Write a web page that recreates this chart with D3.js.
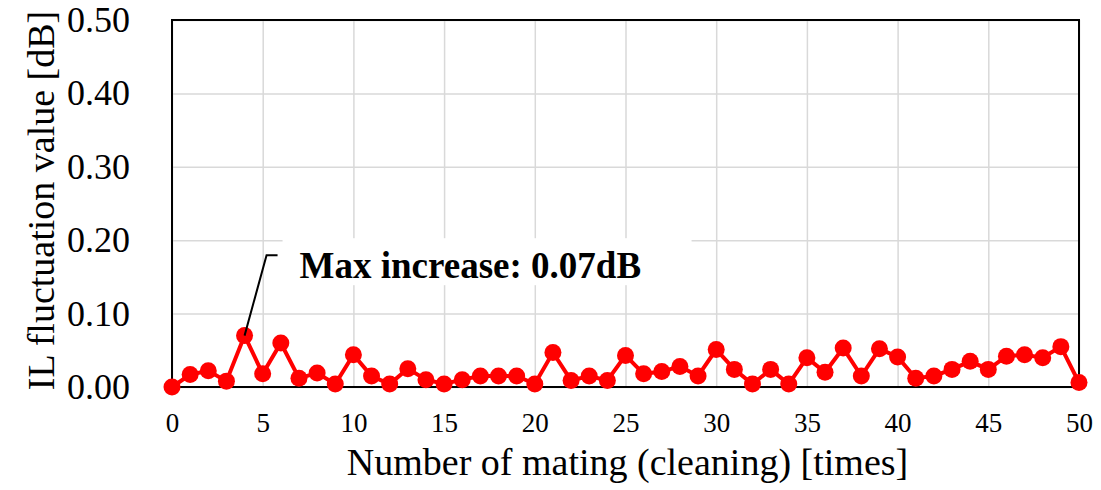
<!DOCTYPE html>
<html>
<head>
<meta charset="utf-8">
<script src="https://cdn.jsdelivr.net/npm/d3@7"></script>
<style>
  body { margin: 0; background: #fff; }
  text { font-family: "Liberation Serif", "Times New Roman", serif; fill: #000; }
</style>
</head>
<body>
<div id="chart"></div>
<script>
var svgWidth = 1101;
var svgHeight = 490;

var margin = { top: 20, right: 22, bottom: 103, left: 172 };
var width = svgWidth - margin.left - margin.right;
var height = svgHeight - margin.top - margin.bottom;

// data
var matingCount = d3.range(0, 51);
var ilFluctuation = [
  0.000, 0.017, 0.022, 0.008, 0.070, 0.018, 0.060, 0.012, 0.019, 0.004,
  0.044, 0.015, 0.004, 0.025, 0.010, 0.004, 0.010, 0.015, 0.015, 0.015,
  0.004, 0.047, 0.009, 0.015, 0.009, 0.043, 0.018, 0.021, 0.028, 0.015,
  0.051, 0.024, 0.004, 0.024, 0.004, 0.040, 0.020, 0.053, 0.015, 0.052,
  0.041, 0.012, 0.015, 0.024, 0.035, 0.024, 0.042, 0.044, 0.040, 0.055,
  0.006
];
var xTicks = [0, 5, 10, 15, 20, 25, 30, 35, 40, 45, 50];
var yTicks = [0, 0.1, 0.2, 0.3, 0.4, 0.5];
var maxLabel = "Max increase: 0.07dB";
var maxIndex = 4;

var points = matingCount.map(function(n, i) { return { n: n, v: ilFluctuation[i] }; });

var svg = d3.select("#chart")
  .append("svg")
  .attr("width", svgWidth)
  .attr("height", svgHeight);

var chartGroup = svg.append("g")
  .attr("transform", `translate(${margin.left}, ${margin.top})`);

var xScale = d3.scaleLinear().domain([0, 50]).range([0, width]);
var yScale = d3.scaleLinear().domain([0, 0.5]).range([height, 0]);

// gridlines
chartGroup.append("g")
  .call(d3.axisLeft(yScale).tickValues(yTicks).tickSize(-width).tickFormat(""))
  .call(g => g.select(".domain").remove())
  .call(g => g.selectAll("line").attr("stroke", "#d9d9d9").attr("stroke-width", 1.5));

chartGroup.append("g")
  .call(d3.axisBottom(xScale).tickValues(xTicks).tickSize(height).tickFormat(""))
  .call(g => g.select(".domain").remove())
  .call(g => g.selectAll("line").attr("stroke", "#d9d9d9").attr("stroke-width", 1.5));

// tick labels
chartGroup.append("g")
  .call(d3.axisLeft(yScale).tickValues(yTicks).tickSize(0).tickPadding(42).tickFormat(d3.format(".2f")))
  .call(g => g.select(".domain").remove())
  .call(g => g.selectAll("text").style("font-size", "36px").style("font-family", "'Liberation Serif', serif"));

chartGroup.append("g")
  .attr("transform", `translate(0, ${height})`)
  .call(d3.axisBottom(xScale).tickValues(xTicks).tickSize(0).tickPadding(26))
  .call(g => g.select(".domain").remove())
  .call(g => g.selectAll("text").style("font-size", "27px").style("font-family", "'Liberation Serif', serif"));

// frame
chartGroup.append("rect")
  .attr("width", width)
  .attr("height", height)
  .attr("fill", "none")
  .attr("stroke", "#000")
  .attr("stroke-width", 2);

// annotation box hides the grid behind the label
var ax = xScale(maxIndex), ay = yScale(ilFluctuation[maxIndex]);
chartGroup.append("rect")
  .attr("x", ax + 38)
  .attr("y", yScale(0.2) - 2)
  .attr("width", 409)
  .attr("height", 47)
  .attr("fill", "#fff");

chartGroup.append("text")
  .attr("x", ax + 55)
  .attr("y", yScale(0.2) + 38)
  .style("font-size", "37px")
  .style("font-weight", "bold")
  .text(maxLabel);

// series
var line = d3.line()
  .x(d => xScale(d.n))
  .y(d => yScale(d.v));

chartGroup.append("path")
  .datum(points)
  .attr("fill", "none")
  .attr("stroke", "#ff0000")
  .attr("stroke-width", 4)
  .attr("d", line);

chartGroup.selectAll("circle")
  .data(points)
  .enter()
  .append("circle")
  .attr("cx", d => xScale(d.n))
  .attr("cy", d => yScale(d.v))
  .attr("r", 8.5)
  .attr("fill", "#ff0000");

// leader line
chartGroup.append("path")
  .attr("d", `M${ax},${ay} L${ax + 22},${yScale(0.2) + 15} L${ax + 33},${yScale(0.2) + 15}`)
  .attr("fill", "none")
  .attr("stroke", "#000")
  .attr("stroke-width", 2);

// axis titles
chartGroup.append("text")
  .attr("x", width / 2 + 2)
  .attr("y", height + 88)
  .attr("text-anchor", "middle")
  .style("font-size", "38px")
  .text("Number of mating (cleaning) [times]");

chartGroup.append("text")
  .attr("transform", "rotate(-90)")
  .attr("x", -height / 2 + 3)
  .attr("y", 54 - margin.left)
  .attr("text-anchor", "middle")
  .style("font-size", "38px")
  .text("IL fluctuation value [dB]");
</script>
</body>
</html>
